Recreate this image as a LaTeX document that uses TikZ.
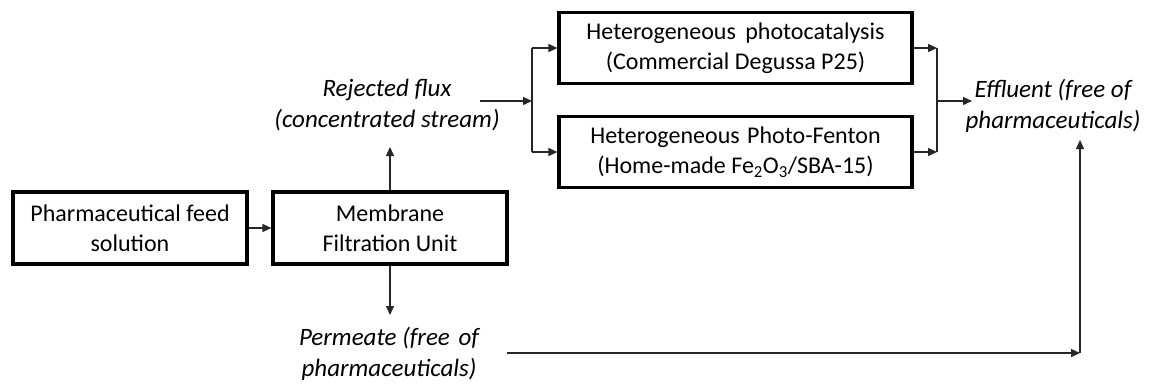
\documentclass[tikz,border=0pt]{standalone}
\usepackage{fontspec}
\setmainfont{Carlito}
\usetikzlibrary{arrows.meta}
\begin{document}
\begin{tikzpicture}[x=1bp,y=-1bp,
  font=\fontsize{24bp}{30bp}\selectfont,
  unit/.style={draw=black,line width=3.2bp,align=center,inner sep=0pt},
  stream/.style={align=center,font=\fontsize{25bp}{31bp}\selectfont\itshape,inner sep=0pt},
  flow/.style={line width=1.3bp,draw=black!85,-{Triangle[length=9bp,width=8bp]}},
  pipe/.style={line width=1.3bp,draw=black!85}]
\useasboundingbox (0,0) rectangle (1149,385);

% process units
\node[unit,minimum width=234bp,minimum height=72bp] (feed) at (130,228) {Pharmaceutical feed\\solution};
\node[unit,minimum width=234bp,minimum height=72bp] (mem) at (390,228) {Membrane\\Filtration Unit};
\node[unit,minimum width=353bp,minimum height=71bp] (photo) at (735.5,48) {Heterogeneous\hspace{4bp} photocatalysis\\(Commercial Degussa P25)};
\node[unit,minimum width=353bp,minimum height=71bp] (fenton) at (735.5,152) {Heterogeneous\hspace{2bp} Photo-Fenton\\(Home-made Fe\textsubscript{2}O\textsubscript{3}/SBA-15)};

% stream labels
\node[stream] (rej) at (387,105) {Rejected flux\\(concentrated stream)};
\node[stream] (perm) at (389,354) {Permeate (free\hspace{3bp} of\\pharmaceuticals)};
\node[stream] (eff) at (1053,106) {Effluent (free of\\pharmaceuticals)};

% junction points
\coordinate (split) at (532,101);
\coordinate (merge) at (937,101);
\coordinate (join) at (1080,353);

% connections
\draw[flow] (feed) -- (mem);
\draw[flow] (mem.north) -- (390,147);
\draw[flow] (mem.south) -- (390,315);
\draw[flow] (480,101) -- (split);
\draw[pipe] (split |- photo.west) -- (split |- fenton.west);
\draw[flow] (split |- photo.west) -- (photo.west);
\draw[flow] (split |- fenton.west) -- (fenton.west);
\draw[flow] (photo.east) -- (merge |- photo.east);
\draw[flow] (fenton.east) -- (merge |- fenton.east);
\draw[pipe] (merge |- photo.east) -- (merge |- fenton.east);
\draw[flow] (merge) -- (972,101);
\draw[flow] (507,353) -- (join);
\draw[flow] (join) -- (1080,140);
\end{tikzpicture}
\end{document}
